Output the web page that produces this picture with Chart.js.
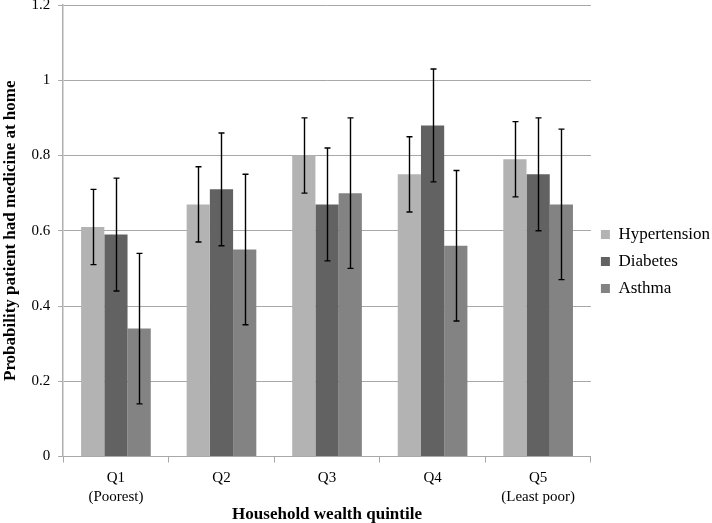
<!DOCTYPE html>
<html>
<head>
<meta charset="utf-8">
<script src="https://cdn.jsdelivr.net/npm/chart.js@4"></script>
<style>
  html, body { margin: 0; padding: 0; background: #fff; }
  #wrap { width: 712px; height: 523px; }
</style>
</head>
<body>
<div id="wrap"><canvas id="chart"></canvas></div>
<script>
// Данные
const quintiles = [['Q1', '(Poorest)'], ['Q2', ''], ['Q3', ''], ['Q4', ''], ['Q5', '(Least poor)']];
const seriesNames = ['Hypertension', 'Diabetes', 'Asthma'];
const hypertension = [0.61, 0.67, 0.80, 0.75, 0.79];
const diabetes = [0.59, 0.71, 0.67, 0.88, 0.75];
const asthma = [0.34, 0.55, 0.70, 0.56, 0.67];
const hypertensionErr = [0.10, 0.10, 0.10, 0.10, 0.10];
const diabetesErr = [0.15, 0.15, 0.15, 0.15, 0.15];
const asthmaErr = [0.20, 0.20, 0.20, 0.20, 0.20];
const yTicks = [0, 0.2, 0.4, 0.6, 0.8, 1, 1.2];

const colors = ['#b3b3b3', '#626262', '#838383'];
const serif = "'Liberation Serif', 'Times New Roman', serif";

// Планки погрешностей рисуем поверх столбцов
const errorBars = {
    id: 'errorBars',
    afterDatasetsDraw(chart) {
        const ctx = chart.ctx;
        const y = chart.scales.y;
        ctx.save();
        ctx.strokeStyle = '#000';
        ctx.lineWidth = 1.4;
        chart.data.datasets.forEach((ds, di) => {
            const meta = chart.getDatasetMeta(di);
            meta.data.forEach((bar, i) => {
                const v = ds.data[i];
                const e = ds.errors[i];
                const top = y.getPixelForValue(v + e);
                const bot = y.getPixelForValue(v - e);
                const x = Math.round(bar.x) + 0.5;
                ctx.beginPath();
                ctx.moveTo(x, top);
                ctx.lineTo(x, bot);
                ctx.moveTo(x - 3, top);
                ctx.lineTo(x + 3, top);
                ctx.moveTo(x - 3, bot);
                ctx.lineTo(x + 3, bot);
                ctx.stroke();
            });
        });
        ctx.restore();
    }
};

const values = [hypertension, diabetes, asthma];
const errors = [hypertensionErr, diabetesErr, asthmaErr];

new Chart(document.getElementById('chart'), {
    type: 'bar',
    data: {
        labels: quintiles,
        datasets: seriesNames.map((name, i) => ({
            label: name,
            data: values[i],
            errors: errors[i],
            backgroundColor: colors[i],
            borderWidth: 0,
            categoryPercentage: 0.66,
            barPercentage: 1.0
        }))
    },
    options: {
        responsive: true,
        maintainAspectRatio: false,
        animation: false,
        layout: { padding: { top: 0, right: -8, left: 0, bottom: 0 } },
        plugins: {
            legend: {
                position: 'right',
                labels: {
                    boxWidth: 9,
                    boxHeight: 9,
                    padding: 10,
                    color: '#000',
                    font: { family: serif, size: 17 }
                }
            },
            tooltip: { enabled: false }
        },
        scales: {
            x: {
                afterFit(axis) {
                    // подписи ниже, ось ближе к низу
                    axis.height -= 6;
                },
                grid: {
                    drawOnChartArea: false,
                    drawTicks: true,
                    tickLength: 6,
                    color: '#a8a8a8'
                },
                border: { color: '#a8a8a8', width: 1 },
                ticks: {
                    color: '#000',
                    padding: 6,
                    maxRotation: 0,
                    font: { family: serif, size: 15, lineHeight: 1.25 }
                },
                title: {
                    display: true,
                    text: 'Household wealth quintile',
                    color: '#000',
                    padding: 0,
                    font: { family: serif, size: 17, weight: 'bold', lineHeight: 1.0 }
                }
            },
            y: {
                min: 0,
                max: 1.2,
                afterBuildTicks(axis) {
                    axis.ticks = yTicks.map(v => ({ value: v }));
                },
                afterFit(axis) {
                    // верхняя линия сетки почти у края, как в оригинале
                    axis.paddingTop = 5;
                },
                grid: {
                    color: '#a8a8a8',
                    tickLength: 5,
                    lineWidth: 1
                },
                border: { color: '#b0b0b0', width: 1.5 },
                ticks: {
                    color: '#000',
                    padding: 8,
                    font: { family: serif, size: 15 },
                    callback: v => String(v)
                },
                title: {
                    display: true,
                    text: 'Probability patient had medicine at home',
                    color: '#000',
                    padding: { top: 0, bottom: 3 },
                    font: { family: serif, size: 17, weight: 'bold' }
                }
            }
        }
    },
    plugins: [errorBars]
});
</script>
</body>
</html>
